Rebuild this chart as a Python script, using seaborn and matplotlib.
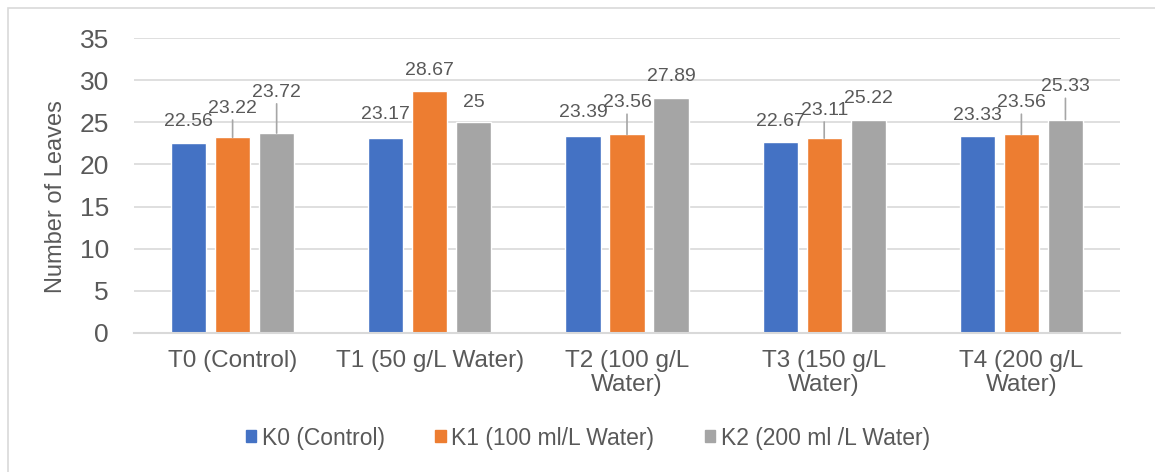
import matplotlib
matplotlib.use("Agg")
import matplotlib.pyplot as plt
from matplotlib.patches import Patch, Rectangle
import pandas as pd
import seaborn as sns

# ---- data ----
treatments = ["T0 (Control)", "T1 (50 g/L Water)", "T2 (100 g/L\nWater)",
              "T3 (150 g/L\nWater)", "T4 (200 g/L\nWater)"]
series = ["K0 (Control)", "K1 (100 ml/L Water)", "K2 (200 ml /L Water)"]
k0 = [22.56, 23.17, 23.39, 22.67, 23.33]
k1 = [23.22, 28.67, 23.56, 23.11, 23.56]
k2 = [23.72, 25, 27.89, 25.22, 25.33]
label_txt = [["22.56", "23.17", "23.39", "22.67", "23.33"],
             ["23.22", "28.67", "23.56", "23.11", "23.56"],
             ["23.72", "25", "27.89", "25.22", "25.33"]]

# label lift above bar top (px), per series / per treatment
label_dy = [[21, 23, 23, 20, 21],
            [29, 21, 32, 28, 32],
            [41, 20, 21, 22, 33]]

colors = ["#4472C4", "#ED7D31", "#A5A5A5"]
text_col = "#595959"
grid_col = "#D9D9D9"

df = pd.DataFrame({
    "treatment": treatments * 3,
    "series": [series[0]] * 5 + [series[1]] * 5 + [series[2]] * 5,
    "value": k0 + k1 + k2,
})

sns.set_theme(style="whitegrid")
plt.rcParams["font.family"] = ["Liberation Sans", "DejaVu Sans"]

fig = plt.figure(figsize=(11.55, 4.72), dpi=100)
ax = fig.add_axes([134 / 1155, 1 - 333 / 472, 986 / 1155, 295 / 472])

sns.barplot(data=df, x="treatment", y="value", hue="series", order=treatments,
            hue_order=series, palette=colors, width=0.67, gap=0.2,
            saturation=1, legend=False, ax=ax)

ax.set_ylim(0, 35)
ax.set_yticks(range(0, 36, 5))
ax.set_xlim(-0.5, 4.5)
ax.grid(axis="y", color=grid_col, lw=1.2)
ax.grid(axis="x", visible=False)
ax.set_axisbelow(True)
for s in ["left", "right", "top"]:
    ax.spines[s].set_visible(False)
ax.spines["bottom"].set_color(grid_col)
ax.spines["bottom"].set_linewidth(1.5)
ax.tick_params(axis="y", length=0, pad=18, labelsize=19, labelcolor=text_col)
ax.tick_params(axis="x", length=0, pad=12, labelsize=17.5, labelcolor=text_col)
for t in ax.get_xticklabels():
    t.set_linespacing(1.12)
ax.set_xlabel("")
ax.set_ylabel("Number of Leaves", fontsize=17, color=text_col)
ax.yaxis.set_label_coords(-0.068, 0.464)

# data labels, with leader lines where lifted higher
for si, cont in enumerate(ax.containers):
    for ti, bar in enumerate(cont):
        x = bar.get_x() + bar.get_width() / 2
        y = bar.get_height()
        dy = label_dy[si][ti] * 0.72
        arrow = None
        if label_dy[si][ti] > 26:
            arrow = dict(arrowstyle="-", color="#A6A6A6", lw=1.2, shrinkA=0, shrinkB=0)
        ax.annotate(label_txt[si][ti], xy=(x, y), xytext=(0, dy),
                    textcoords="offset points", ha="center", va="center",
                    fontsize=14, color=text_col, arrowprops=arrow)

handles = [Patch(color=c, label=s) for c, s in zip(colors, series)]
fig.legend(handles=handles, loc="center", bbox_to_anchor=(588 / 1155, 1 - 438 / 472),
           ncol=3, frameon=False, fontsize=16.5, handlelength=0.45, handleheight=0.45,
           handletextpad=0.25, columnspacing=2.2, labelcolor=text_col)

# chart border
fig.patches.append(Rectangle((8 / 1155, -0.1), 1.2, 1 - 8 / 472 + 0.1,
                             transform=fig.transFigure, fill=False,
                             edgecolor=grid_col, lw=1.2))

fig.savefig("out.png", dpi=100)
plt.close()
